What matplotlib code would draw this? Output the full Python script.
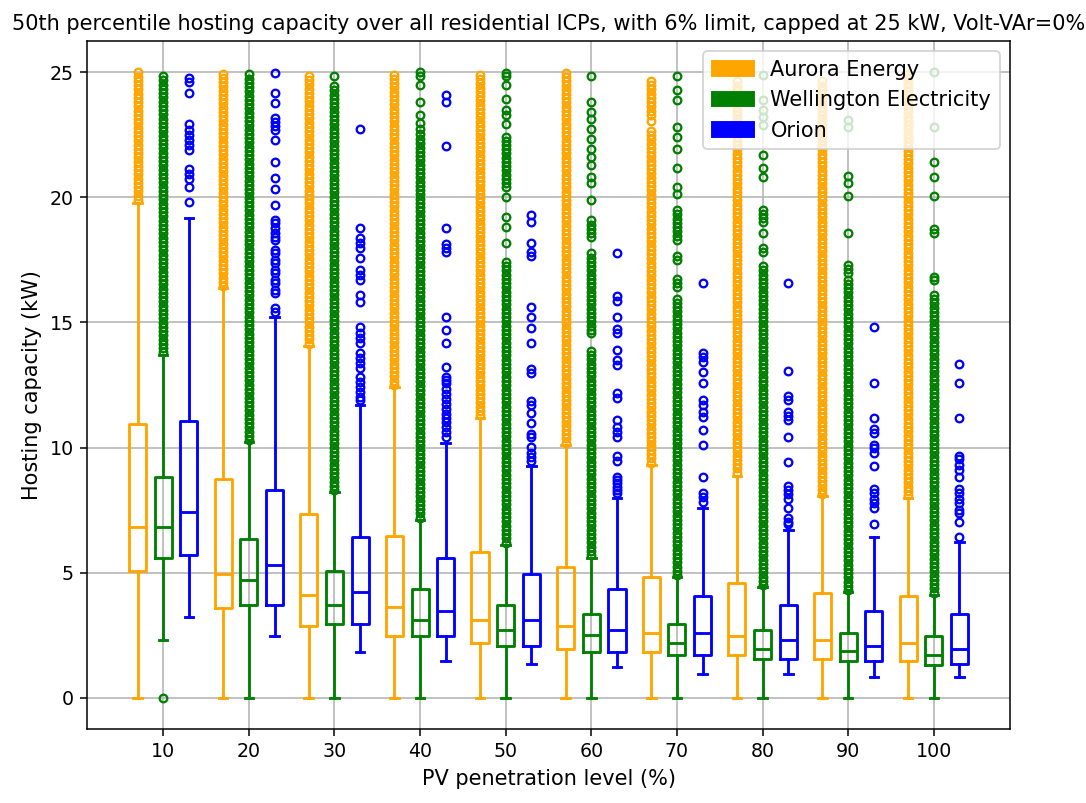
import matplotlib
matplotlib.use("Agg")
import matplotlib.pyplot as plt
from matplotlib.patches import Patch
import numpy as np

# PV penetration levels (%)
levels = [10, 20, 30, 40, 50, 60, 70, 80, 90, 100]

# Aurora Energy box stats (kW)
aurora_q1 = [5.08, 3.58, 2.85, 2.48, 2.18, 1.94, 1.81, 1.69, 1.56, 1.45]
aurora_med = [6.84, 4.95, 4.09, 3.61, 3.09, 2.88, 2.58, 2.48, 2.32, 2.18]
aurora_q3 = [10.94, 8.73, 7.35, 6.47, 5.84, 5.22, 4.82, 4.58, 4.18, 4.07]
aurora_lo = [0, 0, 0, 0, 0, 0, 0, 0, 0, 0]
aurora_hi = [19.78, 16.36, 14.07, 12.43, 11.19, 10.10, 9.31, 8.88, 8.07, 8.00]
# outliers: ranges where they sit so thick they form a solid column, plus single ones
aurora_dense = [
    [(19.9, 25.0)], [(16.45, 25.0)], [(14.15, 25.0)], [(12.5, 25.0)],
    [(11.3, 25.0)], [(10.2, 25.0)], [(9.4, 22.7), (23.3, 24.7)],
    [(9.0, 24.8)], [(8.15, 24.8)], [(8.1, 25.0)],
]
aurora_single = [[], [], [], [], [], [], [23.06], [], [], []]

# Wellington Electricity box stats (kW)
wel_q1 = [5.58, 3.70, 2.96, 2.48, 2.08, 1.82, 1.69, 1.56, 1.45, 1.32]
wel_med = [6.84, 4.71, 3.71, 3.09, 2.72, 2.49, 2.18, 1.96, 1.85, 1.72]
wel_q3 = [8.84, 6.34, 5.08, 4.34, 3.70, 3.34, 2.96, 2.72, 2.58, 2.48]
wel_lo = [2.32, 0, 0, 0, 0, 0, 0, 0, 0, 0]
wel_hi = [13.70, 10.24, 8.21, 7.11, 6.11, 5.58, 4.82, 4.41, 4.22, 4.11]
wel_dense = [
    [(13.8, 25.0)],
    [(10.3, 25.0)],
    [(8.3, 24.5)],
    [(7.2, 22.4)],
    [(20.4, 22.3), (6.2, 17.5)],
    [(18.4, 19.2), (14.7, 17.9), (5.7, 14.0)],
    [(18.3, 19.5), (17.5, 17.8), (16.4, 16.9), (4.9, 16.0)],
    [(19.0, 19.57), (17.8, 17.97), (4.5, 17.3)],
    [(16.97, 17.37), (4.3, 16.82)],
    [(4.2, 16.1)],
]
wel_single = [
    [0.0],
    [],
    [24.84],
    [25.0, 24.85, 24.5, 23.8, 23.3, 22.96, 22.75, 22.55],
    [24.99, 24.84, 24.48, 23.95, 23.48, 23.28, 22.95, 22.42, 20.02, 19.22, 18.82, 18.16],
    [24.84, 23.81, 23.41, 23.15, 22.75, 22.34, 21.95, 21.62, 21.29, 20.83, 20.56, 19.91, 14.56],
    [24.84, 24.31, 23.91, 22.82, 22.42, 21.95, 21.19, 20.42, 20.15],
    [24.9, 23.9, 23.5, 23.2, 22.9, 21.69, 21.19, 20.82, 18.56],
    [23.1, 22.8, 20.85, 20.58, 20.05, 18.56],
    [25.0, 22.8, 21.43, 20.82, 20.05, 18.72, 18.56, 16.82, 16.69],
]

# Orion box stats (kW)
ori_q1 = [5.70, 3.70, 2.96, 2.48, 2.08, 1.81, 1.70, 1.54, 1.45, 1.34]
ori_med = [7.44, 5.31, 4.21, 3.45, 3.09, 2.72, 2.58, 2.32, 2.08, 1.94]
ori_q3 = [11.07, 8.31, 6.44, 5.60, 4.94, 4.34, 4.07, 3.71, 3.45, 3.35]
ori_lo = [3.22, 2.48, 1.82, 1.45, 1.34, 1.21, 0.96, 0.96, 0.83, 0.83]
ori_hi = [19.16, 15.20, 11.69, 10.20, 9.27, 8.00, 7.57, 6.71, 6.44, 6.22]
ori_dense = [[] for _ in levels]
ori_single = [
    [24.76, 24.62, 24.17, 22.95, 22.68, 22.48, 22.28, 22.08, 21.88, 21.15, 20.95, 20.75, 20.42, 19.80],
    [24.98, 24.19, 23.79, 23.19, 23.02, 22.84, 22.71, 22.31, 21.42, 20.79, 20.33, 19.69, 19.09, 18.96,
     18.76, 18.56, 18.42, 18.29, 17.89, 17.76, 17.49, 17.36, 17.09, 16.96, 16.69, 16.56, 16.29, 16.16,
     15.56, 15.43],
    [22.75, 18.76, 18.36, 18.16, 17.96, 17.56, 17.09, 16.89, 16.69, 16.09, 15.83, 14.83, 14.56, 14.36,
     14.16, 13.77, 13.57, 13.37, 13.17, 12.83, 12.63, 12.43, 12.23, 12.03, 11.90],
    [24.08, 23.81, 22.04, 18.76, 18.13, 17.96, 17.82, 15.20, 14.70, 14.19, 13.21, 12.83, 12.70, 12.56,
     12.36, 12.16, 11.96, 11.76, 11.56, 11.36, 11.20, 11.03, 10.83, 10.63, 10.43],
    [19.29, 19.02, 18.18, 17.82, 17.65, 15.63, 15.20, 14.76, 14.19, 13.13, 12.99, 11.87, 11.70, 11.37,
     10.97, 10.54, 10.41, 10.01, 9.80, 9.64, 9.48],
    [17.76, 16.05, 15.87, 15.20, 14.75, 14.56, 13.90, 13.50, 13.30, 12.19, 11.97, 11.10, 10.83, 10.64,
     10.44, 9.66, 9.48, 8.84, 8.71, 8.57, 8.44, 8.31, 8.17],
    [16.56, 13.76, 13.63, 13.43, 13.03, 12.59, 11.90, 11.70, 11.43, 11.21, 10.70, 10.10, 8.84, 8.20,
     8.04, 7.84],
    [16.56, 13.07, 12.06, 11.90, 11.43, 11.26, 11.10, 10.41, 9.44, 8.47, 8.31, 8.13, 7.94, 7.57, 7.18,
     7.04, 6.95],
    [14.83, 12.57, 11.17, 10.73, 10.60, 10.10, 9.97, 9.80, 9.27, 8.33, 8.17, 7.94, 7.78, 7.58, 6.95],
    [13.34, 12.57, 11.17, 9.66, 9.53, 9.30, 9.11, 8.84, 8.33, 8.17, 7.94, 7.78, 7.51, 7.40, 7.04, 6.44],
]

DENSE_STEP = 0.17


def make_stats(q1, med, q3, lo, hi, dense, single):
    stats = []
    for i in range(len(levels)):
        fl = list(single[i])
        for a, b in dense[i]:
            fl.extend(np.arange(a, b + 1e-9, DENSE_STEP))
        stats.append(dict(med=med[i], q1=q1[i], q3=q3[i], whislo=lo[i], whishi=hi[i],
                          fliers=np.array(fl)))
    return stats


def draw(ax, stats, offset, color):
    pos = [l + offset for l in levels]
    lw = 1.5
    ax.bxp(stats, positions=pos, widths=2.0, manage_ticks=False,
           boxprops=dict(color=color, linewidth=lw),
           whiskerprops=dict(color=color, linewidth=lw),
           capprops=dict(color=color, linewidth=lw),
           medianprops=dict(color=color, linewidth=lw),
           flierprops=dict(marker="o", markersize=4, markerfacecolor="none",
                           markeredgecolor=color, markeredgewidth=1.2))


fig = plt.figure(figsize=(1086 / 137, 803 / 137), dpi=137)
ax = fig.add_axes([87 / 1086, 74 / 803, (1010 - 87) / 1086, (729 - 41) / 803])

draw(ax, make_stats(aurora_q1, aurora_med, aurora_q3, aurora_lo, aurora_hi, aurora_dense, aurora_single),
     -3, "orange")
draw(ax, make_stats(wel_q1, wel_med, wel_q3, wel_lo, wel_hi, wel_dense, wel_single), 0, "green")
draw(ax, make_stats(ori_q1, ori_med, ori_q3, ori_lo, ori_hi, ori_dense, ori_single), 3, "blue")

ax.set_xticks(levels)
ax.set_xticklabels([str(l) for l in levels])
ax.set_xlim(1.1, 108.9)
ax.set_ylim(-1.25, 26.25)
ax.set_yticks([0, 5, 10, 15, 20, 25])
ax.grid(True)

ax.set_title("50th percentile hosting capacity over all residential ICPs, with 6% limit, "
             "capped at 25 kW, Volt-VAr=0%", fontsize=11)
ax.set_xlabel("PV penetration level (%)", fontsize=11)
ax.set_ylabel("Hosting capacity (kW)", fontsize=11)

handles = [Patch(color="orange", label="Aurora Energy"),
           Patch(color="green", label="Wellington Electricity"),
           Patch(color="blue", label="Orion")]
ax.legend(handles=handles, loc="upper right", fontsize=11)

plt.savefig("out.png", dpi=137)
